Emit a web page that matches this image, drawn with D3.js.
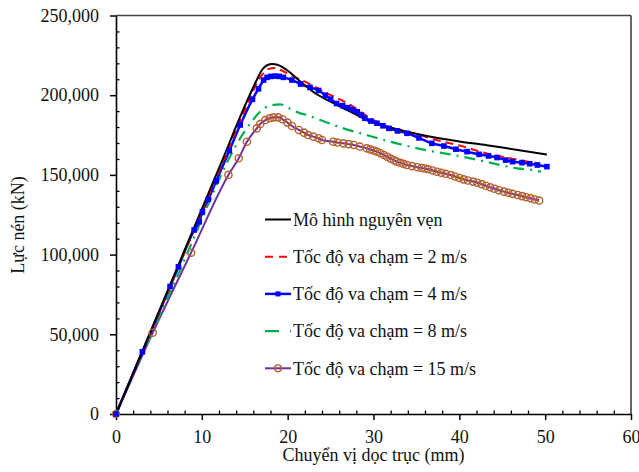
<!DOCTYPE html>
<html>
<head>
<meta charset="utf-8">
<script src="https://cdn.jsdelivr.net/npm/d3@7"></script>
<style>
  body { margin: 0; background: #fff; }
  text { font-family: "Liberation Serif", "Times New Roman", serif; fill: #111; }
</style>
</head>
<body>
<svg id="chart" width="639" height="472"></svg>
<script>
// values: [displacement mm, force kN]
const intact = [[0,0],[4,51400],[8,102800],[12,154200],[15.5,199200],[16.4,209500],[17.0,215800],[17.6,218800],[18.2,219600],[18.8,219100],[19.9,215800],[21.5,208500],[23,202000],[25,195900],[27.3,189700],[29.6,183400],[32.4,179200],[36.2,174400],[40,171000],[43.2,168600],[45.2,167000],[50.2,162800]];

const v2 = [[0,0],[4,50800],[8,101600],[12,152400],[15.6,198000],[16.4,207500],[17.2,214000],[17.8,216500],[18.5,217000],[19.3,215500],[20.3,212700],[22.2,208000],[24.2,202200],[27.3,193900],[29.5,186000],[31.6,180200],[33.5,177500],[35.5,175000],[36.6,173000],[40,168400],[43.2,163500],[46,160300],[49.3,157000]];

const v4 = [[0,0],[3.07,39000],[6.3,80000],[7.27,92400],[9.1,115400],[9.7,120600],[10.07,126900],[10.76,134700],[11.67,146200],[13.2,165200],[14.47,181300],[15.9,197400],[16.6,204000],[17.2,209500],[17.6,211200],[18.05,211800],[18.55,212000],[19.0,211800],[19.5,211200],[20.5,209500],[21.5,207000],[22.6,204900],[23.6,203000],[24.4,200000],[25.0,197500],[25.7,194800],[26.4,193500],[27.0,192200],[27.6,190800],[28.1,189600],[28.6,187500],[29.0,185500],[29.7,183800],[30.4,182400],[31.1,180800],[31.8,179200],[32.8,177600],[33.9,176100],[35.3,173200],[36.8,169800],[38.2,168100],[39.6,166100],[40.9,164600],[42.3,162900],[43.4,161900],[44.4,160900],[45.4,159300],[46.2,158300],[47.3,157700],[48.2,157000],[49.1,156200],[50.2,155200]];

const v8 = [[0,0],[4,48500],[8,97000],[11.55,141600],[13.0,158500],[14.47,173000],[15.8,183400],[16.8,189700],[17.8,193200],[19.1,194300],[20.3,191500],[21.5,188600],[22.2,187600],[23.8,184400],[26.5,179200],[29.2,175000],[32.0,170800],[34.3,167700],[36.6,165000],[39.35,162500],[41.3,160400],[44.8,156200],[46.7,154100],[48.5,153100],[49.5,152000]];

const v15 = [[0,0],[4.28,51000],[8.75,101200],[13.1,150000],[14.3,160400],[15.25,170800],[16.4,179200],[16.8,181900],[17.4,184400],[17.9,185500],[18.35,186100],[18.9,186100],[19.4,184900],[19.98,182800],[20.5,180700],[21.3,178200],[21.9,176500],[22.4,175000],[23.0,174000],[23.6,173000],[24.0,171900],[25.3,170800],[25.8,170300],[26.5,169800],[27.1,169300],[27.7,168800],[28.4,167800],[29.2,166700],[29.6,166000],[30.0,165300],[30.4,164600],[30.8,163600],[31.2,162500],[31.6,161400],[32.0,160200],[32.4,159200],[32.7,158300],[33.1,157600],[33.5,156900],[33.9,156200],[34.5,155500],[35.1,154800],[35.6,154300],[36.0,154000],[36.4,153500],[36.9,152800],[37.4,152000],[37.9,151300],[38.4,150700],[39.0,149900],[39.5,149000],[40.0,148100],[40.5,147200],[41.0,146500],[41.6,145800],[42.1,145100],[42.6,144200],[43.1,143200],[43.6,142200],[44.1,141300],[44.6,140400],[45.2,139500],[45.7,138800],[46.2,138100],[46.8,137400],[47.3,136700],[47.8,136000],[48.3,135300],[48.8,134600],[49.3,133900]];

const legendNames = ["Mô hình nguyên vẹn", "Tốc độ va chạm = 2 m/s", "Tốc độ va chạm = 4 m/s", "Tốc độ va chạm = 8 m/s", "Tốc độ va chạm = 15 m/s"];
const xTicks = [0, 10, 20, 30, 40, 50, 60];
const yTicks = [0, 50000, 100000, 150000, 200000, 250000];

const svg = d3.select('#chart');
const plotL = 116, plotR = 631, plotT = 15.5, plotB = 414;

const x = d3.scaleLinear().domain([0, 60]).range([plotL, plotR]);
const y = d3.scaleLinear().domain([0, 250000]).range([plotB, plotT]);

// frame (top + right)
svg.append('line').attr('x1', plotL).attr('x2', plotR).attr('y1', plotT).attr('y2', plotT)
  .attr('stroke', '#444').attr('stroke-width', 1.5);
svg.append('line').attr('x1', plotR).attr('x2', plotR).attr('y1', plotT).attr('y2', plotB)
  .attr('stroke', '#000').attr('stroke-width', 1.2);

// minor ticks inside
const yMinor = d3.range(0, 250001, 10000).filter(d => d % 50000 !== 0);
const xMinor = d3.range(0, 61, 2).filter(d => d % 10 !== 0);

svg.append('g').attr('transform', `translate(${plotL},0)`)
  .call(d3.axisRight(y).tickValues(yMinor).tickSize(3.5).tickFormat(''))
  .call(g => g.select('.domain').remove())
  .selectAll('line').attr('stroke-width', 1.3);

svg.append('g').attr('transform', `translate(0,${plotB})`)
  .call(d3.axisTop(x).tickValues(xMinor).tickSize(3.5).tickFormat(''))
  .call(g => g.select('.domain').remove())
  .selectAll('line').attr('stroke-width', 1.3);

// major axes
const yAxis = svg.append('g').attr('transform', `translate(${plotL},0)`)
  .call(d3.axisLeft(y).tickValues(yTicks).tickSize(6).tickSizeOuter(0).tickPadding(11).tickFormat(d3.format(',')));
yAxis.select('.domain').attr('stroke-width', 1.6);
yAxis.selectAll('line').attr('stroke-width', 1.5);
yAxis.selectAll('text').attr('font-size', 18).attr('font-family', 'Liberation Serif').attr('fill', '#111');

const xAxis = svg.append('g').attr('transform', `translate(0,${plotB})`)
  .call(d3.axisBottom(x).tickValues(xTicks).tickSize(6).tickSizeOuter(0).tickPadding(10));
xAxis.select('.domain').attr('stroke-width', 1.6);
xAxis.selectAll('line').attr('stroke-width', 1.5);
xAxis.selectAll('text').attr('font-size', 18).attr('font-family', 'Liberation Serif').attr('fill', '#111');

// axis titles
svg.append('text')
  .attr('x', (plotL + plotR) / 2).attr('y', 461)
  .attr('text-anchor', 'middle').attr('font-size', 18)
  .text('Chuyển vị dọc trục (mm)');

svg.append('text')
  .attr('transform', 'translate(24,225) rotate(-90)')
  .attr('text-anchor', 'middle').attr('font-size', 18)
  .text('Lực nén (kN)');

const line = d3.line().x(d => x(d[0])).y(d => y(d[1])).curve(d3.curveMonotoneX);

const series = [
  { data: v15, color: '#7030A0', width: 2, dash: null },
  { data: v8, color: '#00B050', width: 2.2, dash: '11,6,2,6' },
  { data: v4, color: '#0000FF', width: 2.5, dash: null },
  { data: v2, color: '#FF0000', width: 2, dash: '8,5' },
  { data: intact, color: '#000000', width: 2, dash: null }
];

series.forEach(s => {
  svg.append('path')
    .datum(s.data)
    .attr('d', line)
    .attr('fill', 'none')
    .attr('stroke', s.color)
    .attr('stroke-width', s.width)
    .attr('stroke-dasharray', s.dash);
});

// markers
svg.append('g').selectAll('circle')
  .data(v15)
  .join('circle')
  .attr('cx', d => x(d[0])).attr('cy', d => y(d[1])).attr('r', 3.6)
  .attr('fill', 'none').attr('stroke', '#B5602A').attr('stroke-width', 1.4);

svg.append('g').selectAll('rect')
  .data(v4)
  .join('rect')
  .attr('x', d => x(d[0]) - 2.8).attr('y', d => y(d[1]) - 2.8)
  .attr('width', 5.6).attr('height', 5.6)
  .attr('fill', '#0000FF');

// legend
const lg = svg.append('g');
const styles = [
  { color: '#000', width: 2, dash: null, marker: null },
  { color: '#FF0000', width: 2, dash: '8,6', marker: null },
  { color: '#0000FF', width: 2.5, dash: null, marker: 'square' },
  { color: '#00B050', width: 2.2, dash: '14,11,1.5,6', marker: null },
  { color: '#7030A0', width: 2, dash: null, marker: 'circle' }
];
legendNames.forEach((name, i) => {
  const cy = 219.5 + i * 37.2;
  const st = styles[i];
  lg.append('line').attr('x1', 265).attr('x2', 291).attr('y1', cy).attr('y2', cy)
    .attr('stroke', st.color).attr('stroke-width', st.width).attr('stroke-dasharray', st.dash);
  if (st.marker === 'square') {
    lg.append('rect').attr('x', 278 - 2.5).attr('y', cy - 2.5).attr('width', 5).attr('height', 5).attr('fill', '#0000FF');
  }
  if (st.marker === 'circle') {
    lg.append('circle').attr('cx', 278).attr('cy', cy).attr('r', 3.4)
      .attr('fill', 'none').attr('stroke', '#B5602A').attr('stroke-width', 1.4);
  }
  lg.append('text').attr('x', 293).attr('y', cy).attr('dy', '0.35em')
    .attr('font-size', 18).text(name);
});
</script>
</body>
</html>
